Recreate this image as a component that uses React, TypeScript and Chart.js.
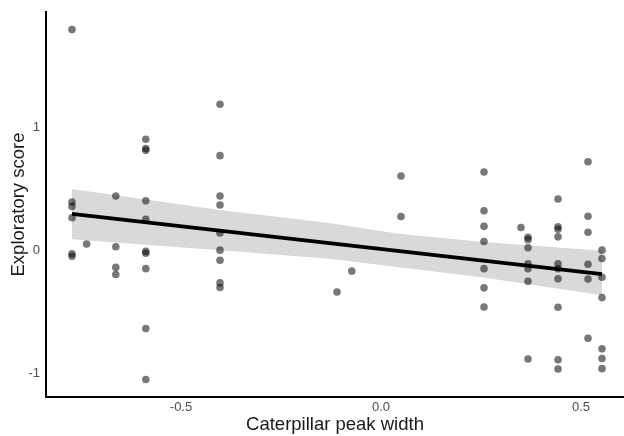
import React, { useEffect, useRef } from 'react';
import { Chart, registerables } from 'chart.js';

Chart.register(...registerables);

// Caterpillar peak width (x) for each column of observations
const peakWidths = [-0.7725, -0.736, -0.663, -0.588, -0.4025, -0.11, -0.073, 0.05, 0.2575, 0.35, 0.3675, 0.4425, 0.5175, 0.5525];
// Exploratory scores observed at each peak width
const scoresByWidth = [
  [1.79, 0.39, 0.355, 0.263, -0.03, -0.05],
  [0.05],
  [0.44, 0.027, -0.14, -0.198],
  [0.9, 0.825, 0.81, 0.4, 0.25, -0.01, -0.025, -0.15, -0.637, -1.05],
  [1.184, 0.767, 0.439, 0.366, 0.14, 0.0, -0.083, -0.266, -0.303],
  [-0.34],
  [-0.17],
  [0.602, 0.273],
  [0.634, 0.32, 0.193, 0.07, -0.15, -0.306, -0.461],
  [0.184],
  [0.105, 0.085, 0.019, -0.11, -0.15, -0.252, -0.884],
  [0.415, 0.19, 0.17, 0.108, -0.11, -0.15, -0.233, -0.463, -0.89, -0.965],
  [0.718, 0.275, 0.145, -0.115, -0.235, -0.715],
  [0.0, -0.068, -0.22, -0.385, -0.8, -0.88, -0.962],
];

// Linear fit line
const fitX = [-0.7725, 0.5525];
const fitY = [0.295, -0.195];

// Confidence band
const bandX = [-0.7725, -0.4025, -0.13, 0.04, 0.256, 0.5525];
const bandLower = [0.089, 0.0, -0.07, -0.136, -0.222, -0.366];
const bandUpper = [0.496, 0.325, 0.22, 0.136, 0.067, -0.005];

const xTicks = [-0.5, 0, 0.5];
const xTickLabels = ['-0.5', '0.0', '0.5'];
const yTicks = [-1, 0, 1];
const yTickLabels = ['-1', '0', '1'];

const FONT = "'Liberation Sans', Arial, Helvetica, sans-serif";

export default function App() {
  const canvasRef = useRef<HTMLCanvasElement | null>(null);

  useEffect(() => {
    if (!canvasRef.current) return;
    const points: { x: number; y: number }[] = [];
    peakWidths.forEach((w, i) => {
      scoresByWidth[i].forEach((s) => points.push({ x: w, y: s }));
    });
    const fit = fitX.map((x, i) => ({ x, y: fitY[i] }));
    const upper = bandX.map((x, i) => ({ x, y: bandUpper[i] }));
    const lower = bandX.map((x, i) => ({ x, y: bandLower[i] }));

    const chart = new Chart(canvasRef.current, {
      type: 'line',
      data: {
        datasets: [
          {
            label: 'fit',
            data: fit,
            borderColor: '#000000',
            borderWidth: 3.8,
            pointRadius: 0,
            fill: false,
            tension: 0,
          },
          {
            label: 'points',
            data: points,
            showLine: false,
            pointRadius: 3.8,
            pointBorderWidth: 0,
            pointBackgroundColor: 'rgba(0,0,0,0.53)',
            pointBorderColor: 'rgba(0,0,0,0)',
            pointHoverRadius: 3.8,
          },
          {
            label: 'upper',
            data: upper,
            borderWidth: 0,
            borderColor: 'rgba(0,0,0,0)',
            pointRadius: 0,
            fill: '+1',
            backgroundColor: '#d9d9d9',
            tension: 0,
          },
          {
            label: 'lower',
            data: lower,
            borderWidth: 0,
            borderColor: 'rgba(0,0,0,0)',
            pointRadius: 0,
            fill: false,
            tension: 0,
          },
        ],
      },
      options: {
        responsive: false,
        animation: false,
        devicePixelRatio: 1,
        layout: { autoPadding: false, padding: { top: 12, left: 0, right: 0, bottom: 0 } },
        plugins: {
          legend: { display: false },
          tooltip: { enabled: false },
        },
        scales: {
          x: {
            type: 'linear',
            min: -0.8375,
            max: 0.6075,
            grid: { display: false, drawTicks: false },
            border: { display: true, color: '#000000', width: 2 },
            afterBuildTicks: (scale: any) => {
              scale.ticks = xTicks.map((v) => ({ value: v }));
            },
            afterFit: (scale: any) => {
              scale.height = 39;
              scale.paddingLeft = 0;
              scale.paddingRight = 0;
            },
            ticks: {
              padding: 3,
              color: '#4d4d4d',
              font: { family: FONT, size: 13 },
              maxRotation: 0,
              autoSkip: false,
              callback: (_v: any, i: number) => xTickLabels[i],
            },
            title: {
              display: true,
              text: 'Caterpillar peak width',
              color: '#1a1a1a',
              font: { family: FONT, size: 18.5 },
              padding: { top: 0, bottom: 0 },
            },
          },
          y: {
            type: 'linear',
            min: -1.192,
            max: 1.933,
            grid: { display: false, drawTicks: false },
            border: { display: true, color: '#000000', width: 2 },
            afterBuildTicks: (scale: any) => {
              scale.ticks = yTicks.map((v) => ({ value: v }));
            },
            afterFit: (scale: any) => {
              scale.width = 46;
              scale.paddingTop = 0;
              scale.paddingBottom = 0;
            },
            ticks: {
              padding: 6,
              color: '#4d4d4d',
              font: { family: FONT, size: 13 },
              autoSkip: false,
              callback: (_v: any, i: number) => yTickLabels[i],
            },
            title: {
              display: true,
              text: 'Exploratory score',
              color: '#1a1a1a',
              font: { family: FONT, size: 18.5 },
              padding: { top: 8, bottom: 0 },
            },
          },
        },
      },
    });
    return () => chart.destroy();
  }, []);

  return (
    <div style={{ position: 'fixed', left: 0, top: 0, width: 624, height: 436, background: '#ffffff' }}>
      <canvas ref={canvasRef} width={624} height={436} style={{ width: 624, height: 436, display: 'block' }} />
    </div>
  );
}
